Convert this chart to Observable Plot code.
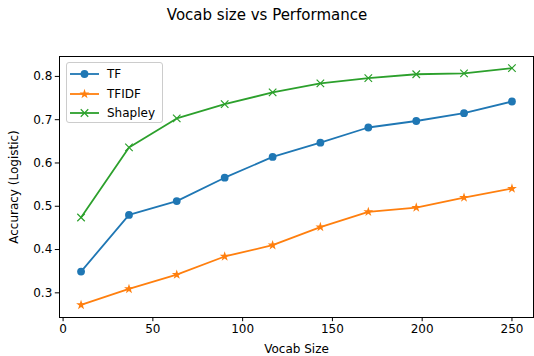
<!DOCTYPE html>
<html><head><meta charset="utf-8">
<script src="https://cdn.jsdelivr.net/npm/d3@7"></script>
<script src="https://cdn.jsdelivr.net/npm/@observablehq/plot@0.6"></script>
<style>
body{margin:0;background:#fff;font-family:"DejaVu Sans",sans-serif}
#wrap{position:relative;width:534px;height:356px;overflow:hidden}
#title{position:absolute;left:0;top:6px;width:534px;text-align:center;font-size:15px;line-height:18px;color:#000}
#legend{position:absolute;left:66px;top:62px;width:95px;height:59px;background:rgba(255,255,255,0.8);border:1px solid #cccccc;border-radius:3px;font-size:12px;color:#000}
.entry{position:absolute;left:3px;height:20px;display:flex;align-items:center}
.entry span{margin-left:8px}
</style></head><body>
<div id="wrap"><div id="title">Vocab size vs Performance</div></div>
<script>
const vocab = [10, 36.7, 63.3, 90, 116.7, 143.3, 170, 196.7, 223.3, 250];
const tf = [0.349, 0.480, 0.512, 0.566, 0.614, 0.647, 0.682, 0.697, 0.715, 0.742];
const tfidf = [0.272, 0.309, 0.342, 0.384, 0.410, 0.452, 0.487, 0.497, 0.520, 0.541];
const shapley = [0.474, 0.636, 0.703, 0.736, 0.763, 0.784, 0.796, 0.805, 0.807, 0.819];
const seriesNames = ["TF", "TFIDF", "Shapley"];
const seriesColors = ["#1f77b4", "#ff7f0e", "#2ca02c"];
const seriesSymbols = ["circle", "star", "times"];
const xTicks = [0, 50, 100, 150, 200, 250];
const yTicks = [0.3, 0.4, 0.5, 0.6, 0.7, 0.8];

const seriesValues = [tf, tfidf, shapley];
const data = seriesNames.flatMap((name, i) => vocab.map((v, j) => ({series: name, x: v, y: seriesValues[i][j]})));

const symR = {circle: 3.9, star: 3.1, times: 3.5};

const marks = [];
seriesNames.forEach((name, i) => {
  const d = data.filter(r => r.series === name);
  const s = seriesSymbols[i];
  marks.push(Plot.line(d, {x: "x", y: "y", stroke: seriesColors[i], strokeWidth: 1.8}));
  if (s === "times") {
    marks.push(Plot.dot(d, {x: "x", y: "y", symbol: "times", r: symR[s], stroke: seriesColors[i], strokeWidth: 1.2}));
  } else {
    marks.push(Plot.dot(d, {x: "x", y: "y", symbol: s, r: symR[s], fill: seriesColors[i], stroke: "none"}));
  }
});

const chart = Plot.plot({
  width: 534, height: 356,
  marginLeft: 59, marginRight: 1, marginTop: 56, marginBottom: 39,
  style: {fontFamily: "DejaVu Sans, sans-serif", fontSize: "12px", color: "#000", background: "transparent"},
  x: {domain: [-2, 262]},
  y: {domain: [0.243, 0.846]},
  marks: [
    Plot.axisX({ticks: xTicks, tickSize: 4.2, tickPadding: 3, tickFormat: d => String(d), label: "Vocab Size", labelAnchor: "center", labelArrow: "none", labelOffset: 35, fontSize: 12, stroke: "#000"}),
    Plot.axisY({ticks: yTicks, tickSize: 4.2, tickPadding: 3, tickFormat: d3.format(".1f"), label: "Accuracy (Logistic)", labelAnchor: "center", labelArrow: "none", labelOffset: 50, fontSize: 12, stroke: "#000"}),
    ...marks,
    Plot.frame({stroke: "#000", strokeWidth: 1})
  ]
});
chart.style.position = "absolute";
chart.style.left = "0px";
chart.style.top = "0px";
const wrap = document.getElementById("wrap");
wrap.appendChild(chart);

// legend
const legend = document.createElement("div");
legend.id = "legend";
seriesNames.forEach((name, i) => {
  const e = document.createElement("div");
  e.className = "entry";
  e.style.top = (1 + i * 19.5) + "px";
  const svg = d3.create("svg").attr("width", 29).attr("height", 12);
  svg.append("line").attr("x1", 0).attr("x2", 29).attr("y1", 6).attr("y2", 6).attr("stroke", seriesColors[i]).attr("stroke-width", 1.8);
  const s = seriesSymbols[i];
  const sym = {circle: d3.symbolCircle, star: d3.symbolStar, times: d3.symbolTimes}[s];
  const p = svg.append("path").attr("transform", "translate(14.5,6)").attr("d", d3.symbol(sym, Math.PI * symR[s] * symR[s])());
  if (s === "times") p.attr("fill", "none").attr("stroke", seriesColors[i]).attr("stroke-width", 1.2);
  else p.attr("fill", seriesColors[i]);
  e.appendChild(svg.node());
  const t = document.createElement("span");
  t.textContent = name;
  e.appendChild(t);
  legend.appendChild(e);
});
wrap.appendChild(legend);
</script>
</body></html>
